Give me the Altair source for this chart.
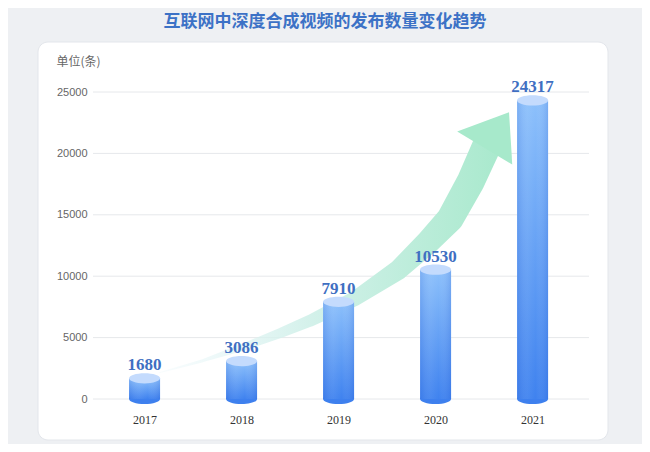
import pandas as pd
import altair as alt

# Data
years = [2017, 2018, 2019, 2020, 2021]
counts = [1680, 3086, 7910, 10530, 24317]
y_ticks = [0, 5000, 10000, 15000, 20000, 25000]

# decorative trend arrow (centre line, in data units)
trend_x = [2017.15, 2017.6, 2018.0, 2018.41, 2018.71, 2019.17, 2019.62, 2019.92, 2020.15, 2020.36, 2020.52]
trend_y = [2140, 3120, 4180, 5400, 6390, 8180, 10540, 12770, 14680, 17680, 20490]
trend_w = [1, 3, 7, 10, 12, 15, 20, 24, 27, 28, 29]
head_x = [2020.59]
head_y = [21410]

bars = pd.DataFrame({'year': years, 'count': counts, 'zero': [0] * len(years)})
trend = pd.DataFrame({'x': trend_x, 'y': trend_y, 'w': trend_w})
head = pd.DataFrame({'x': head_x, 'y': head_y})
grid = pd.DataFrame({'v': y_ticks})

x_scale = alt.Scale(domain=[2016.52, 2021.53], nice=False, zero=False)
y_scale = alt.Scale(domain=[0, 25000], nice=False)

ellipse = 'M -1 0 A 1 0.33 0 1 0 1 0 A 1 0.33 0 1 0 -1 0 Z'
arrow_head = 'M -0.99 -0.13 L 0.45 -0.66 L 0.54 0.79 Z'

# white card behind the plot
card = alt.Chart(pd.DataFrame({'a': [0]})).mark_rect(
    fill='white', stroke='#e3e6eb', strokeWidth=1, cornerRadius=10
).encode(
    x=alt.value(-55), x2=alt.value(515), y=alt.value(-50), y2=alt.value(348)
)

gridlines = alt.Chart(grid).mark_rule(color='#e6e8eb', strokeWidth=1).encode(
    y=alt.Y('v:Q', scale=y_scale,
            axis=alt.Axis(values=y_ticks, format='d', grid=False, domain=False, ticks=False,
                          zindex=1,
                          labelFont='Liberation Sans', labelFontSize=11, labelColor='#666666',
                          labelPadding=6, title='单位(条)', titleAngle=0, titleX=-37, titleY=-31,
                          titleAlign='left', titleBaseline='middle', titleFont='Noto Sans CJK SC',
                          titleFontSize=12, titleFontWeight='normal', titleColor='#666666')),
    x=alt.value(0), x2=alt.value(496)
)

shaft_fill = alt.Gradient(
    gradient='linear', x1=0, y1=0, x2=1, y2=0,
    stops=[alt.GradientStop(color='rgba(225,243,248,0.2)', offset=0),
           alt.GradientStop(color='#d3f1ea', offset=0.45),
           alt.GradientStop(color='#a9e9cd', offset=1)]
)

shaft = alt.Chart(trend).mark_trail(color=shaft_fill).encode(
    x=alt.X('x:Q', scale=x_scale),
    y=alt.Y('y:Q', scale=y_scale),
    size=alt.Size('w:Q', scale=None, legend=None)
)

tip = alt.Chart(head).mark_point(
    shape=arrow_head, size=5184, filled=True, fill='#a7e9cb', opacity=1, strokeWidth=0
).encode(x=alt.X('x:Q', scale=x_scale), y=alt.Y('y:Q', scale=y_scale))

body_fill = alt.Gradient(
    gradient='linear', x1=0, y1=0, x2=0, y2=1,
    stops=[alt.GradientStop(color='#8cc0fb', offset=0),
           alt.GradientStop(color='#3f82ef', offset=1)]
)
shade_fill = alt.Gradient(
    gradient='linear', x1=0, y1=0, x2=1, y2=0,
    stops=[alt.GradientStop(color='rgba(30,80,200,0.16)', offset=0),
           alt.GradientStop(color='rgba(255,255,255,0.06)', offset=0.35),
           alt.GradientStop(color='rgba(255,255,255,0)', offset=0.6),
           alt.GradientStop(color='rgba(30,80,200,0.18)', offset=1)]
)

x_enc = alt.X('year:Q', scale=x_scale,
              axis=alt.Axis(values=years, format='d', grid=False, domain=False, ticks=False,
                            zindex=1,
                            labelFont='Liberation Serif', labelFontSize=12, labelColor='#333333',
                            labelPadding=15, title=None))

bottom = alt.Chart(bars).mark_point(
    shape=ellipse, size=961, filled=True, fill='#3e80ee', opacity=1, strokeWidth=0
).encode(x=x_enc, y=alt.Y('zero:Q', scale=y_scale))

body = alt.Chart(bars).mark_bar(width=31, color=body_fill).encode(
    x=x_enc, y=alt.Y('count:Q', scale=y_scale), y2='zero:Q'
)
shade = alt.Chart(bars).mark_bar(width=31, color=shade_fill).encode(
    x=x_enc, y=alt.Y('count:Q', scale=y_scale), y2='zero:Q'
)

top = alt.Chart(bars).mark_point(
    shape=ellipse, size=961, filled=True, fill='#c4dbfd', opacity=1, strokeWidth=0
).encode(x=x_enc, y=alt.Y('count:Q', scale=y_scale))

labels = alt.Chart(bars).mark_text(
    dy=-8, baseline='alphabetic', font='Liberation Serif', fontSize=17,
    fontWeight='bold', color='#3f6fc2'
).encode(x=x_enc, y=alt.Y('count:Q', scale=y_scale), text=alt.Text('count:Q', format='d'))

chart = alt.layer(card, gridlines, shaft, tip, bottom, body, shade, top, labels).properties(
    width=496, height=307,
    autosize=alt.AutoSizeParams(type='none'),
    padding={'left': 85, 'top': 84, 'right': 53, 'bottom': 45},
    background='#eef0f3',
    title=alt.TitleParams('互联网中深度合成视频的发布数量变化趋势', font='Noto Sans CJK SC',
                          fontSize=17, fontWeight='bold', color='#3c72c6', anchor='middle',
                          frame='bounds', offset=11, dx=2)
).configure_view(strokeWidth=0)

chart.save("out.html", embed_options={"renderer": "svg", "actions": False})
